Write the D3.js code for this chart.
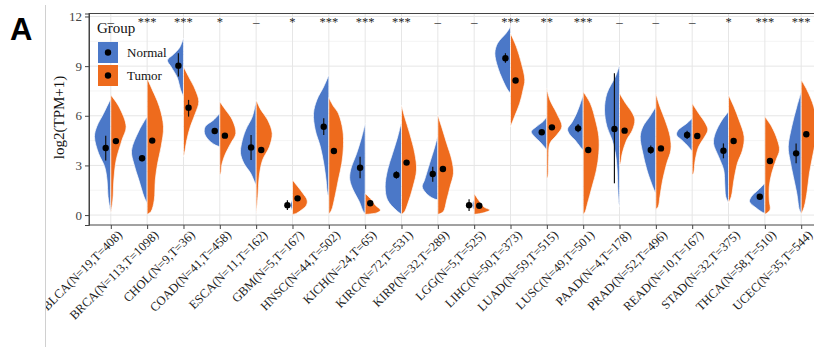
<!DOCTYPE html>
<html>
<head>
<meta charset="utf-8">
<script src="https://cdn.jsdelivr.net/npm/d3@7"></script>
<style>
  html, body { margin: 0; padding: 0; background: #fff; }
  svg { display: block; }
</style>
</head>
<body>
<div id="chart"></div>
<script>
// cancer types and sample counts
const categories = [
  'BLCA(N=19,T=408)', 'BRCA(N=113,T=1098)', 'CHOL(N=9,T=36)', 'COAD(N=41,T=458)',
  'ESCA(N=11,T=162)', 'GBM(N=5,T=167)', 'HNSC(N=44,T=502)', 'KICH(N=24,T=65)',
  'KIRC(N=72,T=531)', 'KIRP(N=32,T=289)', 'LGG(N=5,T=525)', 'LIHC(N=50,T=373)',
  'LUAD(N=59,T=515)', 'LUSC(N=49,T=501)', 'PAAD(N=4,T=178)', 'PRAD(N=52,T=496)',
  'READ(N=10,T=167)', 'STAD(N=32,T=375)', 'THCA(N=58,T=510)', 'UCEC(N=35,T=544)'
];
const signif = ['–', '***', '***', '*', '–', '*', '***', '***', '***', '–',
  '–', '***', '**', '***', '–', '–', '–', '*', '***', '***'];

const groups = ['Normal', 'Tumor'];
const yTicks = [0, 3, 6, 9, 12];
const yMinor = [1.5, 4.5, 7.5, 10.5];

// point (mean) and error bar per group
const normalMean = [4.05, 3.43, 9.03, 5.08, 4.09, 0.6, 5.34, 2.86, 2.42, 2.48, 0.6, 9.48, 5.0, 5.24, 5.2, 3.93, 4.84, 3.89, 1.11, 3.73];
const normalLo   = [3.3, 3.25, 8.37, 4.9, 3.33, 0.3, 4.84, 2.22, 2.2, 2.02, 0.25, 9.2, 4.9, 5.0, 1.92, 3.7, 4.6, 3.43, 1.03, 3.13];
const normalHi   = [4.8, 3.6, 9.78, 5.25, 4.84, 0.9, 5.85, 3.53, 2.65, 2.92, 0.95, 9.78, 5.1, 5.5, 8.57, 4.2, 5.1, 4.33, 1.2, 4.33];
const tumorMean  = [4.47, 4.5, 6.49, 4.8, 3.93, 1.01, 3.87, 0.71, 3.17, 2.78, 0.56, 8.13, 5.3, 3.93, 5.1, 4.03, 4.78, 4.48, 3.27, 4.88];
const tumorLo    = [4.35, 4.4, 5.95, 4.7, 3.75, 0.95, 3.8, 0.62, 3.1, 2.7, 0.5, 8.05, 5.22, 3.85, 5.0, 3.95, 4.7, 4.4, 3.2, 4.8];
const tumorHi    = [4.6, 4.6, 6.96, 4.9, 4.1, 1.08, 3.95, 0.8, 3.25, 2.86, 0.62, 8.2, 5.38, 4.0, 5.2, 4.1, 4.86, 4.56, 3.35, 4.96];

// half-violin profiles: [log2(TPM+1), density (arbitrary units)]
const normalShape = [
  [[7.05,0],[6.15,7],[5.35,13.7],[4.74,16],[3.73,12],[2.92,6],[2.12,3.7],[1.11,2.7],[0.1,0]],
  [[5.95,0],[5.1,8],[3.9,15.3],[3.1,13],[2.1,8],[1.1,3],[0.7,0]],
  [[10.7,0],[10.1,4],[9.7,10],[9.35,15.7],[8.95,12],[8.3,6],[7.6,3],[7.15,0]],
  [[6.15,0],[5.75,6],[5.34,14.3],[4.94,15],[4.54,11],[4.23,4.3],[4.13,0]],
  [[6.96,0],[5.95,3.7],[5.14,10.3],[4.33,14.3],[3.73,15.3],[3.13,12],[2.52,5.3],[1.92,1],[1.81,0]],
  [[0.95,0],[0.6,2],[0.25,0]],
  [[8.47,0],[7.76,5],[6.96,11.7],[6.15,15],[5.14,13.3],[4.13,8.3],[3.13,5],[2.12,2.7],[1.31,1.3],[1.11,0]],
  [[5.54,0],[4.74,3.3],[3.73,8.3],[2.72,14.3],[2.12,15],[1.51,11.7],[0.81,5.7],[0.2,1.7],[0.1,0]],
  [[5.65,0],[4.74,3.7],[3.73,8.7],[2.72,13.7],[1.71,16],[0.91,13.7],[0.3,5.3],[0.04,0]],
  [[4.84,0],[4.13,3],[3.13,8],[2.12,13],[1.71,15.3],[1.31,11.3],[1.01,4.7],[0.91,0]],
  [[0.95,0],[0.6,2],[0.25,0]],
  [[11.39,0],[10.99,4.3],[10.38,12.7],[9.78,15.3],[8.97,12.7],[8.17,7.7],[7.56,2.7],[7.36,0]],
  [[5.95,0],[5.65,3.7],[5.34,10.3],[5.04,15.3],[4.74,12],[4.33,5.3],[3.93,0]],
  [[7.26,0],[6.8,2.5],[6.17,6.3],[5.6,11],[5.2,15.3],[4.85,13],[4.53,8],[4.13,3],[3.93,0]],
  [[9.07,0],[8.37,4],[7.36,12.3],[6.35,14.7],[5.34,12.3],[4.54,7.3],[3.73,4],[2.72,2.3],[1.71,1.7],[0.71,0.7],[0.5,0]],
  [[6.55,0],[5.95,6],[5.34,12.7],[4.74,15.3],[3.73,12.7],[2.72,8.7],[1.92,4.3],[1.41,1],[1.31,0]],
  [[5.85,0],[5.54,5.3],[5.14,13.7],[4.84,15.3],[4.54,10.3],[4.13,3.7],[3.83,0]],
  [[6.25,0],[5.75,6.3],[4.94,13],[4.33,14.7],[3.53,9.7],[2.72,4.7],[1.92,3.7],[1.11,2.7],[0.75,0]],
  [[1.92,0],[1.51,6.7],[1.11,13.3],[0.81,15],[0.5,10],[0.2,3.3],[0.1,0]],
  [[7.46,0],[6.55,4.3],[5.34,9.3],[4.13,12.7],[3.33,11],[2.32,7.7],[1.31,4.3],[0.3,1.7],[0.1,0]]
];
const tumorShape = [
  [[7.26,0],[6.55,8],[5.34,15],[4.54,11],[3.33,5.3],[2.12,3],[0.91,2],[0.1,0]],
  [[8.27,0],[7.76,3.7],[6.55,12],[5.34,16],[4.13,13.7],[3.13,10.3],[2.12,8],[0.91,7],[0.2,3.7],[0.04,0]],
  [[8.97,0],[8.37,5],[7.56,11.7],[6.85,15],[6.15,11.7],[5.34,6.7],[4.54,3.3],[3.73,1],[3.53,0]],
  [[6.85,0],[6.35,5.7],[5.75,12.3],[4.94,15.7],[4.33,10.7],[3.73,5.7],[3.13,2.3],[2.52,1],[2.42,0]],
  [[6.96,0],[6.35,4.7],[5.75,11.3],[4.94,15.7],[4.13,13],[3.33,6.3],[2.32,3],[1.11,1.7],[0.04,0]],
  [[2.12,0],[1.71,5.3],[1.31,10.3],[0.91,14.3],[0.6,13.7],[0.3,8.7],[0.1,3.7],[0.04,0]],
  [[7.1,0],[6.6,4.3],[6.15,9.3],[5.14,13.7],[4.13,14.3],[3.13,12.7],[2.12,9.3],[1.11,6],[0.3,2.7],[0.04,0]],
  [[1.31,0],[1.01,5],[0.6,10],[0.3,15],[0.14,11.7],[0.04,0]],
  [[6.65,0],[5.95,3],[4.94,8],[3.73,13],[2.72,14.7],[1.71,11.3],[0.71,6.3],[0.2,3],[0.04,0]],
  [[6.05,0],[5.34,3.7],[4.33,8.7],[3.33,13.7],[2.52,15.3],[1.71,12],[0.91,8.7],[0.2,5.3],[0.04,0]],
  [[1.31,0],[0.91,4.3],[0.5,9.3],[0.3,15.3],[0.14,9.3],[0.04,0]],
  [[10.99,0],[10.18,5.7],[9.17,10.7],[8.17,14],[7.56,12.3],[6.75,9],[5.95,4],[5.34,0]],
  [[7.66,0],[6.96,3],[6.15,9.7],[5.34,14.7],[4.84,9.7],[4.33,3],[3.33,1.7],[2.32,1],[2.22,0]],
  [[7.46,0],[6.75,7],[5.75,12],[4.74,15.3],[3.73,15.3],[2.72,13],[1.71,8.7],[0.71,4.3],[0.2,2],[0.04,0]],
  [[7.36,0],[6.75,6],[6.15,12.7],[5.75,15],[5.14,12.7],[4.54,7],[3.73,2.7],[3.13,1],[3.02,0]],
  [[7.36,0],[6.55,4],[5.75,9],[4.74,14],[3.93,14.7],[3.13,10.7],[2.12,6.7],[1.11,4],[0.5,2.3],[0.34,0]],
  [[6.75,0],[6.15,6.3],[5.54,13],[5.14,15.3],[4.64,11.3],[4.13,6.3],[3.33,3],[2.52,1.3],[2.42,0]],
  [[7.26,0],[6.55,5.3],[5.75,10.3],[4.74,15.3],[3.93,13.7],[3.13,8.7],[2.12,5.3],[1.11,2.7],[0.75,0]],
  [[5.95,0],[5.34,6.7],[4.54,12.3],[3.93,14.3],[3.33,11],[2.52,6.7],[1.71,4.3],[0.91,4.3],[0.3,5],[0.04,0]],
  [[8.17,0],[7.56,5.7],[6.55,12.3],[5.5,15],[4.5,14],[3.5,11],[2.5,8],[1.5,6],[0.5,3],[0.05,0]]
];

const colors = { Normal: '#4b78c8', Tumor: '#ee6b1d' };
const serif = '"Liberation Serif", "DejaVu Serif", serif';

const W = 814, H = 349;
const margin = { top: 13.5, right: -9, bottom: 124, left: 89 };

const svg = d3.select('#chart').append('svg')
  .attr('width', W)
  .attr('height', H);

// panel letter and separator
svg.append('text')
  .attr('x', 10).attr('y', 40)
  .attr('font-family', '"Liberation Sans", Arial, sans-serif')
  .attr('font-weight', 'bold')
  .attr('font-size', '31px')
  .attr('fill', '#000')
  .text('A');

svg.append('line')
  .attr('x1', 45.5).attr('x2', 45.5)
  .attr('y1', 5).attr('y2', 347)
  .attr('stroke', '#d0d0d0');

svg.append('clipPath').attr('id', 'figClip')
  .append('rect').attr('x', 46).attr('y', 0).attr('width', W - 46).attr('height', H);

const fig = svg.append('g').attr('clip-path', 'url(#figClip)');

const plotBottom = H - margin.bottom;
const plotRight = W - margin.right;

const x = d3.scalePoint()
  .domain(categories)
  .range([margin.left, plotRight])
  .padding(0.6);

const y = d3.scaleLinear()
  .domain([-0.6, 12.18])
  .range([plotBottom, margin.top]);

const w = d3.scaleLinear()
  .domain([0, 16])
  .range([0, x.step() * 0.45]);

const dodge = x.step() * 0.14;

// grid
const grid = fig.append('g');
grid.selectAll('.minor')
  .data(yMinor)
  .enter().append('line')
  .attr('x1', margin.left).attr('x2', plotRight)
  .attr('y1', d => y(d)).attr('y2', d => y(d))
  .attr('stroke', '#ececec').attr('stroke-width', 0.6);
grid.selectAll('.major')
  .data(yTicks)
  .enter().append('line')
  .attr('x1', margin.left).attr('x2', plotRight)
  .attr('y1', d => y(d)).attr('y2', d => y(d))
  .attr('stroke', '#e6e6e6').attr('stroke-width', 1);
grid.selectAll('.vgrid')
  .data(categories)
  .enter().append('line')
  .attr('x1', d => x(d)).attr('x2', d => x(d))
  .attr('y1', margin.top).attr('y2', plotBottom)
  .attr('stroke', '#e6e6e6').attr('stroke-width', 1);

// half violins
const halfArea = (cx, side) => d3.area()
  .y(d => y(d[0]))
  .x0(cx)
  .x1(d => cx + side * w(d[1]))
  .curve(d3.curveCatmullRom.alpha(0.5));

const violins = fig.append('g');
categories.forEach((c, i) => {
  const cx = x(c);
  violins.append('path')
    .datum(normalShape[i])
    .attr('d', halfArea(cx, -1))
    .attr('fill', colors.Normal)
    .attr('stroke', '#fff').attr('stroke-width', 0.7);
  violins.append('path')
    .datum(tumorShape[i])
    .attr('d', halfArea(cx, 1))
    .attr('fill', colors.Tumor)
    .attr('stroke', '#fff').attr('stroke-width', 0.7);
});

// points with error bars
const pts = [];
categories.forEach((c, i) => {
  pts.push({ cx: x(c) - dodge, m: normalMean[i], lo: normalLo[i], hi: normalHi[i] });
  pts.push({ cx: x(c) + dodge, m: tumorMean[i], lo: tumorLo[i], hi: tumorHi[i] });
});
const pg = fig.append('g');
pg.selectAll('.err')
  .data(pts)
  .enter().append('line')
  .attr('x1', d => d.cx).attr('x2', d => d.cx)
  .attr('y1', d => y(d.lo)).attr('y2', d => y(d.hi))
  .attr('stroke', '#111').attr('stroke-width', 1.2);
pg.selectAll('.pt')
  .data(pts)
  .enter().append('circle')
  .attr('cx', d => d.cx).attr('cy', d => y(d.m))
  .attr('r', 3.2)
  .attr('fill', '#000');

// significance labels
fig.selectAll('.sig')
  .data(categories)
  .enter().append('text')
  .attr('x', d => x(d))
  .attr('y', y(11.45))
  .attr('text-anchor', 'middle')
  .attr('font-family', serif)
  .attr('font-size', (d, i) => signif[i] === '–' ? '13px' : '12.5px')
  .attr('fill', '#222')
  .text((d, i) => signif[i]);

// panel border
fig.append('rect')
  .attr('x', margin.left).attr('y', margin.top)
  .attr('width', plotRight - margin.left)
  .attr('height', plotBottom - margin.top)
  .attr('fill', 'none')
  .attr('stroke', '#444').attr('stroke-width', 1);

// y axis
const yAxis = fig.append('g')
  .attr('transform', `translate(${margin.left},0)`)
  .call(d3.axisLeft(y).tickValues(yTicks).tickSize(4).tickPadding(3));
yAxis.select('.domain').attr('stroke', '#444');
yAxis.selectAll('line').attr('stroke', '#444');
yAxis.selectAll('text')
  .attr('font-family', serif)
  .attr('font-size', '13px')
  .attr('fill', '#444');

// x axis
const xAxis = fig.append('g')
  .attr('transform', `translate(0,${plotBottom})`)
  .call(d3.axisBottom(x).tickSize(4).tickSizeOuter(0));
xAxis.select('.domain').remove();
xAxis.selectAll('line').attr('stroke', '#444');
xAxis.selectAll('text')
  .attr('font-family', serif)
  .attr('font-size', '12.5px')
  .attr('fill', '#222')
  .attr('text-anchor', 'end')
  .attr('dy', '0.8em')
  .attr('transform', 'translate(1,0) rotate(-45)')
  .attr('y', 5)
  .attr('x', 0);

// axis title
fig.append('text')
  .attr('transform', `translate(63.5,${y(5.9)}) rotate(-90)`)
  .attr('text-anchor', 'middle')
  .attr('font-family', serif)
  .attr('font-size', '15px')
  .attr('fill', '#111')
  .text('log2(TPM+1)');

// legend
const lg = fig.append('g');
lg.append('text')
  .attr('x', 97).attr('y', 33)
  .attr('font-family', serif)
  .attr('font-size', '15px')
  .attr('fill', '#111')
  .text('Group');
groups.forEach((g, i) => {
  const ky = 42 + i * 23;
  lg.append('rect')
    .attr('x', 98).attr('y', ky)
    .attr('width', 20).attr('height', 21)
    .attr('fill', colors[g]);
  lg.append('circle')
    .attr('cx', 108).attr('cy', ky + 10.5)
    .attr('r', 3.2)
    .attr('fill', '#000');
  lg.append('text')
    .attr('x', 127).attr('y', ky + 14.5)
    .attr('font-family', serif)
    .attr('font-size', '13px')
    .attr('fill', '#111')
    .text(g);
});
</script>
</body>
</html>
